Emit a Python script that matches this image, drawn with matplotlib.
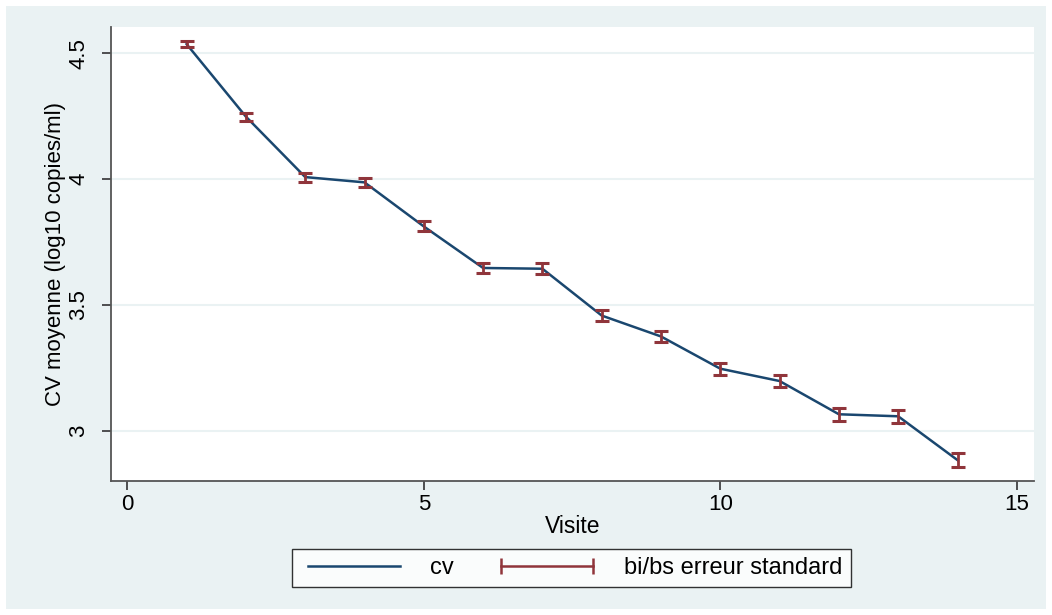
import matplotlib
matplotlib.use("Agg")
import matplotlib.pyplot as plt
from matplotlib.lines import Line2D
from matplotlib.patches import Rectangle

plt.rcParams['font.family'] = ['Liberation Sans', 'DejaVu Sans']

visite = [1, 2, 3, 4, 5, 6, 7, 8, 9, 10, 11, 12, 13, 14]
cv = [4.536, 4.248, 4.008, 3.987, 3.812, 3.647, 3.644, 3.458, 3.375, 3.247, 3.198, 3.066, 3.058, 2.884]
se = [0.012, 0.016, 0.018, 0.018, 0.020, 0.021, 0.021, 0.022, 0.023, 0.024, 0.024, 0.025, 0.026, 0.028]
xticks = [0, 5, 10, 15]
yticks = [3, 3.5, 4, 4.5]
ytick_labels = ['3', '3.5', '4', '4.5']

navy = '#1A476F'
maroon = '#90353B'
bg = '#EAF2F3'

W, H = 1052, 615
fig = plt.figure(figsize=(W / 100, H / 100), dpi=100)
fig.patch.set_facecolor('white')
fig.patches.append(Rectangle((6 / W, 6 / H), 1 - 12 / W, 1 - 12 / H,
                             transform=fig.transFigure, facecolor=bg,
                             edgecolor='none', zorder=-10))

ax = fig.add_axes([111 / W, 1 - 481 / H, (1034 - 111) / W, (481 - 27) / H])
ax.set_facecolor('white')

lo = [c - s for c, s in zip(cv, se)]
hi = [c + s for c, s in zip(cv, se)]
ax.plot(visite, cv, color=navy, lw=1.8, zorder=3)
ax.vlines(visite, lo, hi, color=maroon, lw=2.0, zorder=4)
ax.plot(visite, lo, linestyle='none', marker='_', ms=10.5, mew=2.2, color=maroon, zorder=4)
ax.plot(visite, hi, linestyle='none', marker='_', ms=10.5, mew=2.2, color=maroon, zorder=4)

ax.set_xlim(-0.275, 15.29)
ax.set_ylim(2.801, 4.604)
ax.set_xticks(xticks)
ax.set_yticks(yticks)
ax.set_yticklabels(ytick_labels, rotation=90, va='center')
ax.grid(axis='y', color=bg, lw=1.5)
ax.set_axisbelow(True)
for side in ['top', 'right']:
    ax.spines[side].set_visible(False)
for side in ['left', 'bottom']:
    ax.spines[side].set_color('#555555')
    ax.spines[side].set_linewidth(1.3)
ax.tick_params(axis='both', labelsize=16, length=6.5, width=1.2, color='#333333')
ax.tick_params(axis='x', pad=3)
ax.tick_params(axis='y', pad=9)

ax.set_xlabel('Visite', fontsize=16.5, labelpad=0)
ax.set_ylabel('CV moyenne (log10 copies/ml)', fontsize=16, labelpad=2)

h1 = Line2D([], [], color=navy, lw=1.8)
h2 = Line2D([], [], color=maroon, lw=1.8, marker='|', ms=12, mew=1.8)
leg = fig.legend([h1, h2], ['cv', 'bi/bs erreur standard'], loc='center',
                 bbox_to_anchor=((285 + 858) / 2 / W, 1 - 568 / H), ncol=2,
                 fontsize=17, frameon=True, fancybox=False, numpoints=2,
                 handlelength=4.5, columnspacing=1.7, borderpad=0.35, handletextpad=1.0)
leg.get_frame().set_edgecolor('black')
leg.get_frame().set_linewidth(1.0)
leg.get_frame().set_facecolor('white')

fig.savefig('out.png', dpi=100, facecolor=fig.get_facecolor())
